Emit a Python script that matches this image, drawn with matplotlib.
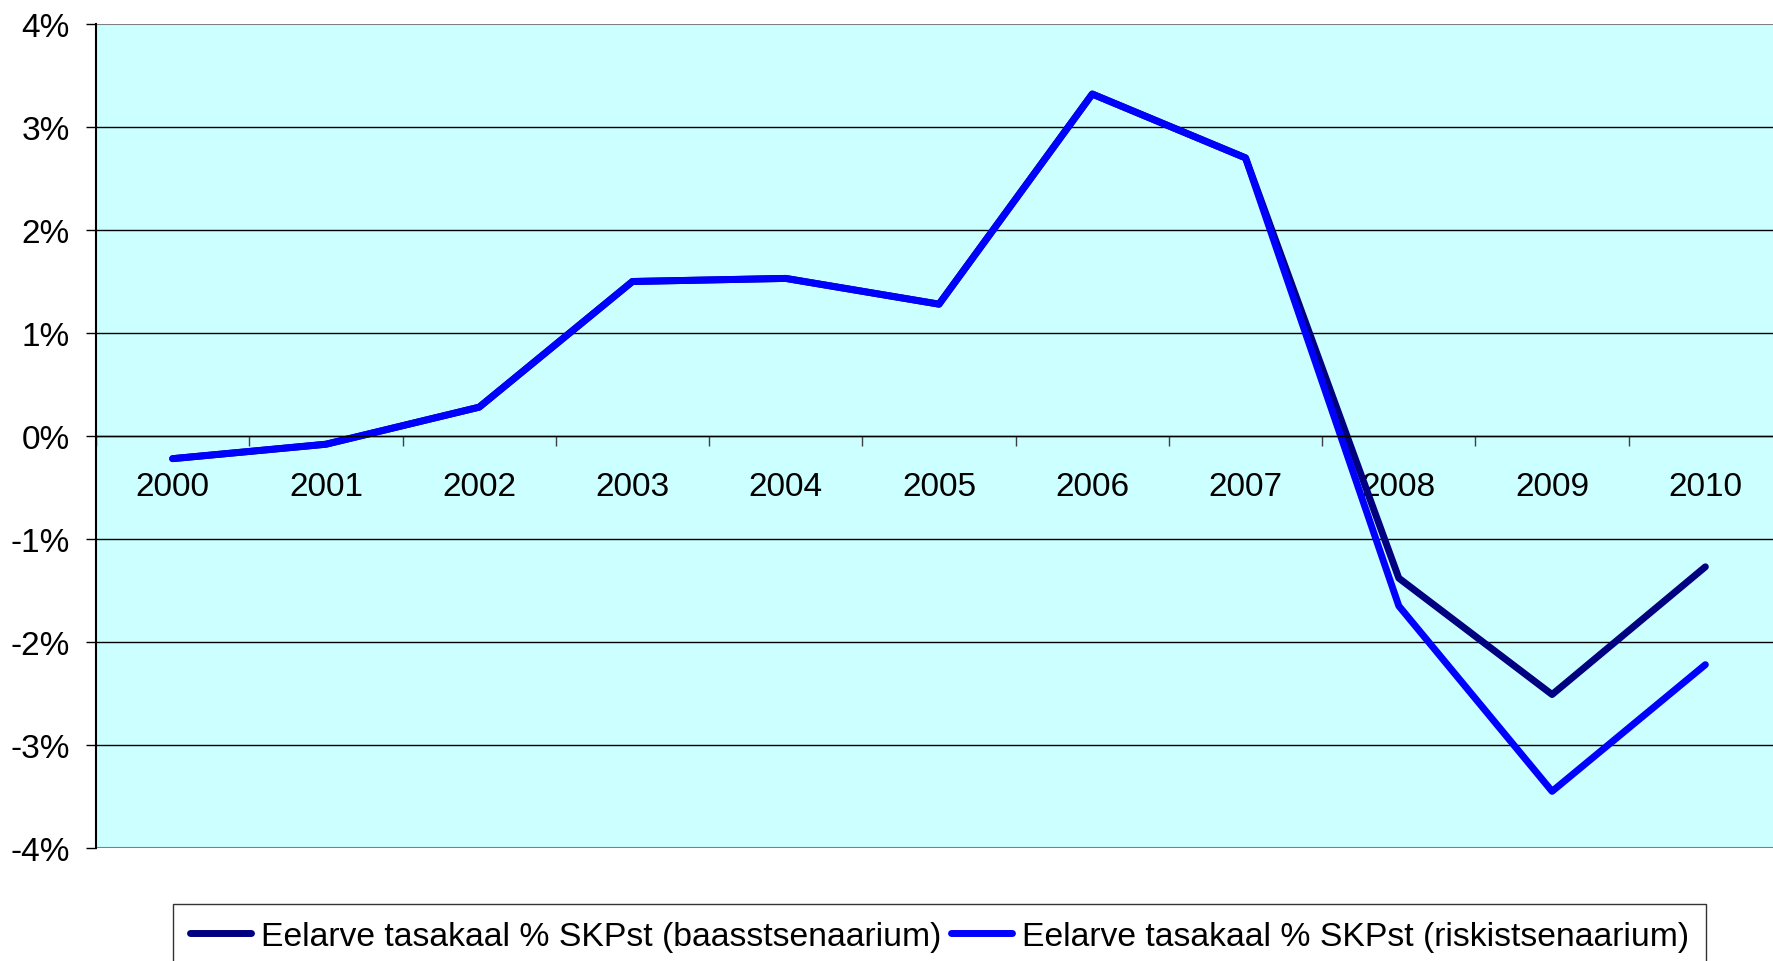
import matplotlib.pyplot as plt
from matplotlib.ticker import FixedLocator

plt.rcParams['font.family'] = ['Liberation Sans', 'DejaVu Sans']

# andmed (loetud pildilt)
aastad = ['2000', '2001', '2002', '2003', '2004', '2005', '2006', '2007', '2008', '2009', '2010']
baas = [-0.22, -0.08, 0.28, 1.50, 1.53, 1.28, 3.32, 2.70, -1.38, -2.51, -1.27]
riski = [-0.22, -0.08, 0.28, 1.50, 1.53, 1.28, 3.32, 2.70, -1.65, -3.45, -2.22]
y_ticks = [-4, -3, -2, -1, 0, 1, 2, 3, 4]

W, H = 1773, 962
fig = plt.figure(figsize=(W / 100, H / 100), dpi=100)
ax = fig.add_axes([96 / W, (H - 849) / H, (1782 - 96) / W, (849 - 25) / H])
ax.set_facecolor('#CCFFFF')

x = list(range(len(aastad)))
ax.plot(x, baas, color='#000080', lw=5, solid_capstyle='round',
        label='Eelarve tasakaal % SKPst (baasstsenaarium)')
ax.plot(x, riski, color='#0000FF', lw=5, solid_capstyle='round',
        label='Eelarve tasakaal % SKPst (riskistsenaarium)')

ax.set_xlim(-0.5, len(aastad) - 0.5)
ax.set_ylim(-4, 4)

# horisontaalsed jooned
for v in y_ticks:
    if abs(v) == 4:
        ax.axhline(v, color='#808080', lw=1.5, zorder=0.5)
    else:
        ax.axhline(v, color='black', lw=1, zorder=0.5)

ax.spines['top'].set_visible(False)
ax.spines['right'].set_visible(False)
ax.spines['left'].set_linewidth(1.5)
ax.spines['bottom'].set_position(('data', 0))
ax.spines['bottom'].set_linewidth(1)

ax.set_yticks(y_ticks)
ax.set_yticklabels([f'{v}%' for v in y_ticks], fontsize=24)
ax.tick_params(axis='y', length=7, width=1, pad=12, direction='out')

ax.set_xticks(x)
ax.set_xticklabels(aastad, fontsize=24)
ax.xaxis.set_minor_locator(FixedLocator([i + 0.5 for i in range(-1, len(aastad))]))
ax.tick_params(axis='x', which='major', length=0, pad=25)
ax.tick_params(axis='x', which='minor', length=7, width=1, direction='out', color='#404040')

fig.legend(loc='upper left', bbox_to_anchor=(173 / W, 1 - 905 / H), ncol=2,
           fontsize=24.3, frameon=True, fancybox=False, edgecolor='black',
           handlelength=1.8, handletextpad=0.3, columnspacing=0.3,
           borderpad=0.5, borderaxespad=0).get_frame().set_linewidth(1)

fig.savefig('out.png', dpi=100)
